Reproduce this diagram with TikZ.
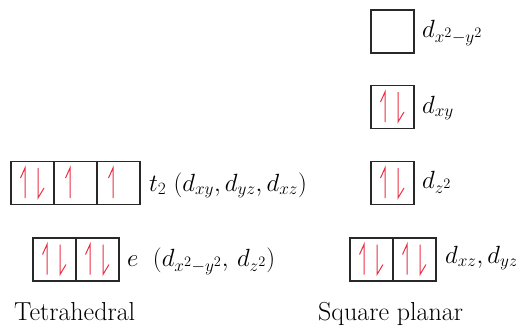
\documentclass[tikz,border=0pt]{standalone}
\usetikzlibrary{calc}
\DeclareMathSizes{24}{24}{18}{14}
\definecolor{spinred}{RGB}{232,48,70}
\definecolor{boxgray}{RGB}{40,40,40}
\begin{document}
\begin{tikzpicture}[x=1pt,y=-1pt,
  orb/.style={draw=boxgray,line width=1.1pt,rectangle,minimum width=43pt,minimum height=43pt,inner sep=0pt,outer sep=0pt},
  spin/.style={draw=spinred,line width=1pt,line join=miter},
  lbl/.style={anchor=base west,inner sep=0pt,font=\fontsize{24}{28}\selectfont},
  ttl/.style={anchor=base west,inner sep=0pt,font=\fontsize{26}{30}\selectfont},
  up/.pic={\draw[spin] (0,15) -- (0,-15) -- (-4.5,-5);},
  down/.pic={\draw[spin] (0,-15) -- (0,15) -- (6,5);},
  pair/.pic={\pic at (-7.5,0) {up}; \pic at (5.5,0) {down};},
  single/.pic={\pic at (-5.5,0) {up};}
]
\useasboundingbox (0,0) rectangle (516,325);
% Tetrahedral
\node[orb] (t1) at (32.5,183) {};
\node[orb] (t2) at (75.5,183) {};
\node[orb] (t3) at (118.5,183) {};
\pic at (t1) {pair};
\pic at (t2) {single};
\pic at (t3) {single};
\node[orb] (e1) at (54.5,259.5) {};
\node[orb] (e2) at (97.5,259.5) {};
\pic at (e1) {pair};
\pic at (e2) {pair};
\node[lbl] (lt2) at (149,191) {$t_2\ (d_{xy}, d_{yz}, d_{xz})$};
\node[lbl] (le) at (127,266) {$e\ \ (d_{x^2-y^2},\, d_{z^2})$};
\node[ttl] (tet) at (14,320) {Tetrahedral};
% Square planar
\node[orb] (s1) at (392.5,31.5) {};
\node[orb] (s2) at (392.5,107) {};
\node[orb] (s3) at (392.5,183) {};
\node[orb] (s4) at (371.5,259.5) {};
\node[orb] (s5) at (414.5,259.5) {};
\pic at (s2) {pair};
\pic at (s3) {pair};
\pic at (s4) {pair};
\pic at (s5) {pair};
\node[lbl] (ls1) at (422,37) {$d_{x^2-y^2}$};
\node[lbl] (ls2) at (422,113) {$d_{xy}$};
\node[lbl] (ls3) at (422,188) {$d_{z^2}$};
\node[lbl] (ls4) at (445,263) {$d_{xz}, d_{yz}$};
\node[ttl] (sq) at (318,320) {Square planar};
\end{tikzpicture}
\end{document}
